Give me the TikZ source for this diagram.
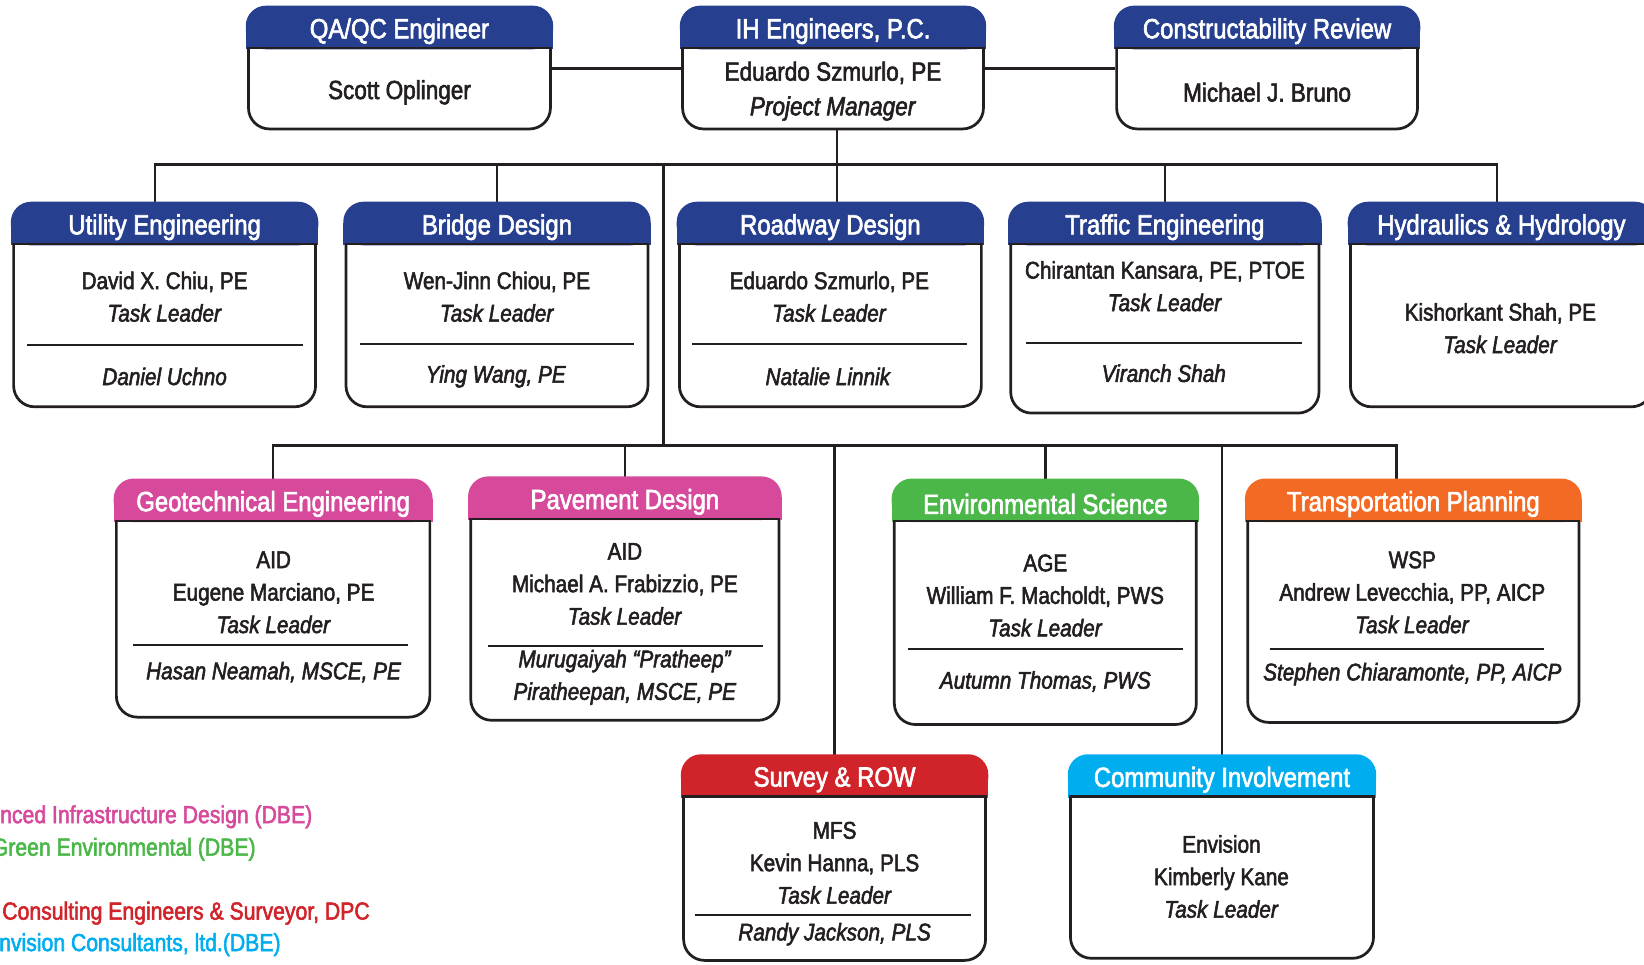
\documentclass[tikz,border=0pt]{standalone}
\usepackage{fontspec}
\setmainfont{Liberation Sans}[FakeStretch=0.86, UprightFeatures={FakeBold=2.2}, ItalicFeatures={FakeBold=2.2}]
\usepackage{tikz,xcolor}
\definecolor{ink}{HTML}{231F20}
\definecolor{ihblue}{HTML}{263F8F}
\definecolor{aidpink}{HTML}{D6499B}
\definecolor{agegreen}{HTML}{4BB749}
\definecolor{wsporange}{HTML}{F26A23}
\definecolor{mfsred}{HTML}{D1232A}
\definecolor{envcyan}{HTML}{00AEEF}
\tikzset{
	box/.style={draw=ink, line width=2.6pt, rounded corners=20pt, fill=white, inner sep=0pt},
	title/.style={text=white, inner sep=0pt, font=\fontsize{26.5}{30}\selectfont},
	txt/.style={text=ink, align=center, inner sep=0pt, font=\fontsize{23}{31}\selectfont},
	toptxt/.style={text=ink, align=center, inner sep=0pt, font=\fontsize{25}{33}\selectfont},
	link/.style={draw=ink, line width=2.4pt},
	divider/.style={draw=ink, line width=2pt},
	legend/.style={anchor=west, inner sep=0pt, font=\fontsize{23.5}{28}\selectfont}
	}
% coloured title band on top of a box
\newcommand{\orghead}[3]{%
	\filldraw[#2, line width=2.6pt, rounded corners=18pt] (#1.north west) rectangle ([yshift=-39pt]#1.north east);
	\filldraw[#2, line width=2.6pt] ([yshift=-20pt]#1.north west) rectangle ([yshift=-39pt]#1.north east);
	\draw[ink, line width=2pt] ([yshift=-39pt]#1.north west) -- ([yshift=-39pt]#1.north east);
	\node[title] (#1-title) at ([yshift=-23pt]#1.north) {#3};
}

\begin{document}
\begin{tikzpicture}[x=1pt, y=-1pt]

	\useasboundingbox (0,0) rectangle (1568,919.5);

	% bus lines
	\coordinate (bus1) at (633,157);
	\coordinate (bus2) at (633,425);

	% top row
	\node[box, minimum width=288pt, minimum height=115pt] (qa) at (381,65.5) {};
	\node[box, minimum width=287pt, minimum height=115pt] (ih) at (794.5,65.5) {};
	\node[box, minimum width=287pt, minimum height=115pt] (cr) at (1208.5,65.5) {};

	% second row
	\node[box, minimum width=288pt, minimum height=193pt] (util) at (157,291.5) {};
	\node[box, minimum width=288pt, minimum height=193pt] (bridge) at (474,291.5) {};
	\node[box, minimum width=288pt, minimum height=193pt] (road) at (792,291.5) {};
	\node[box, minimum width=294pt, minimum height=199pt] (traffic) at (1111,294.5) {};
	\node[box, minimum width=288pt, minimum height=193pt] (hydro) at (1432,291.5) {};

	% third row
	\node[box, minimum width=299pt, minimum height=225pt] (geo) at (260.5,571.5) {};
	\node[box, minimum width=294pt, minimum height=230pt] (pave) at (596,572) {};
	\node[box, minimum width=288pt, minimum height=232pt] (env) at (997,575) {};
	\node[box, minimum width=316pt, minimum height=230pt] (trans) at (1348,574) {};

	% bottom row
	\node[box, minimum width=288pt, minimum height=194pt] (survey) at (796,819) {};
	\node[box, minimum width=289pt, minimum height=192pt] (comm) at (1165.5,818) {};

	% connectors
	\coordinate (ihdrop) at ([xshift=4pt]ih.south);
	\draw[link] (qa.east) -- (ih.west);
	\draw[link] (ih.east) -- (cr.west);
	\draw[link] (ihdrop) -- (ihdrop |- road.north);
	\draw[link] ([xshift=-9pt]util.north) -- ([xshift=-9pt]util.north |- bus1) -| ([xshift=-4pt]hydro.north);
	\draw[link] (bridge.north) -- (bridge.north |- bus1);
	\draw[link] (traffic.north) -- (traffic.north |- bus1);
	\draw[link] (bus1) -- (bus2);
	\draw[link] (geo.north) -- (geo.north |- bus2) -| ([xshift=-16pt]trans.north);
	\draw[link] (pave.north) -- (pave.north |- bus2);
	\draw[link] (env.north) -- (env.north |- bus2);
	\draw[link] (survey.north) -- (survey.north |- bus2);
	\draw[link] (comm.north) -- (comm.north |- bus2);

	% title bands
	\orghead{qa}{ihblue}{QA/QC Engineer}
	\orghead{ih}{ihblue}{IH Engineers, P.C.}
	\orghead{cr}{ihblue}{Constructability Review}
	\orghead{util}{ihblue}{Utility Engineering}
	\orghead{bridge}{ihblue}{Bridge Design}
	\orghead{road}{ihblue}{Roadway Design}
	\orghead{traffic}{ihblue}{Traffic Engineering}
	\orghead{hydro}{ihblue}{Hydraulics \& Hydrology}
	\orghead{geo}{aidpink}{Geotechnical Engineering}
	\orghead{pave}{aidpink}{Pavement Design}
	\orghead{env}{agegreen}{Environmental Science}
	\orghead{trans}{wsporange}{Transportation Planning}
	\orghead{survey}{mfsred}{Survey \& ROW}
	\orghead{comm}{envcyan}{Community Involvement}

	% names
	\node[toptxt] (qa-name) at (381,88) {Scott Oplinger};
	\node[toptxt] (ih-name) at (794.5,87) {Eduardo Szmurlo, PE\\\textit{Project Manager}};
	\node[toptxt] (cr-name) at (1208.5,88) {Michael J. Bruno};

	\node[txt] (util-lead) at (157,283) {David X. Chiu, PE\\\textit{Task Leader}};
	\draw[divider] (26,329) -- (289,329);
	\node[txt] (util-staff) at (157,359) {\textit{Daniel Uchno}};

	\node[txt] (bridge-lead) at (474,283) {Wen-Jinn Chiou, PE\\\textit{Task Leader}};
	\draw[divider] (343,328) -- (605,328);
	\node[txt] (bridge-staff) at (473,359) {\textit{Ying Wang, PE}};

	\node[txt] (road-lead) at (791,283) {Eduardo Szmurlo, PE\\\textit{Task Leader}};
	\draw[divider] (660,328) -- (922,328);
	\node[txt] (road-staff) at (790,359) {\textit{Natalie Linnik}};

	\node[txt] (traffic-lead) at (1111,273) {Chirantan Kansara, PE, PTOE\\\textit{Task Leader}};
	\draw[divider] (979,327) -- (1242,327);
	\node[txt] (traffic-staff) at (1110,356) {\textit{Viranch Shah}};

	\node[txt] (hydro-lead) at (1431,313) {Kishorkant Shah, PE\\\textit{Task Leader}};

	\node[txt] (geo-lead) at (261,565) {AID\\Eugene Marciano, PE\\\textit{Task Leader}};
	\draw[divider] (127,615) -- (389,615);
	\node[txt] (geo-staff) at (261,641) {\textit{Hasan Neamah, MSCE, PE}};

	\node[txt] (pave-lead) at (596,557) {AID\\Michael A. Frabizzio, PE\\\textit{Task Leader}};
	\draw[divider] (465,616) -- (728,616);
	\node[txt] (pave-staff) at (596,646) {\textit{Murugaiyah “Pratheep”}\\\textit{Piratheepan, MSCE, PE}};

	\node[txt] (env-lead) at (997,568) {AGE\\William F. Macholdt, PWS\\\textit{Task Leader}};
	\draw[divider] (866,619) -- (1128,619);
	\node[txt] (env-staff) at (997,650) {\textit{Autumn Thomas, PWS}};

	\node[txt] (trans-lead) at (1347,565) {WSP\\Andrew Levecchia, PP, AICP\\\textit{Task Leader}};
	\draw[divider] (1211,619) -- (1473,619);
	\node[txt] (trans-staff) at (1347,643) {\textit{Stephen Chiaramonte, PP, AICP}};

	\node[txt] (survey-lead) at (796,823) {MFS\\Kevin Hanna, PLS\\\textit{Task Leader}};
	\draw[divider] (663,873) -- (926,873);
	\node[txt] (survey-staff) at (796,891) {\textit{Randy Jackson, PLS}};

	\node[txt] (comm-lead) at (1165,836) {Envision\\Kimberly Kane\\\textit{Task Leader}};

	% firm legend
	\node[legend, text=aidpink] (key-aid) at (0,779) {nced Infrastructure Design (DBE)};
	\node[legend, text=agegreen] (key-age) at (-8,810) {Green Environmental (DBE)};
	\node[legend, text=mfsred] (key-mfs) at (2,871) {Consulting Engineers \& Surveyor, DPC};
	\node[legend, text=envcyan] (key-env) at (-1,901) {nvision Consultants, ltd.(DBE)};

\end{tikzpicture}
\end{document}
